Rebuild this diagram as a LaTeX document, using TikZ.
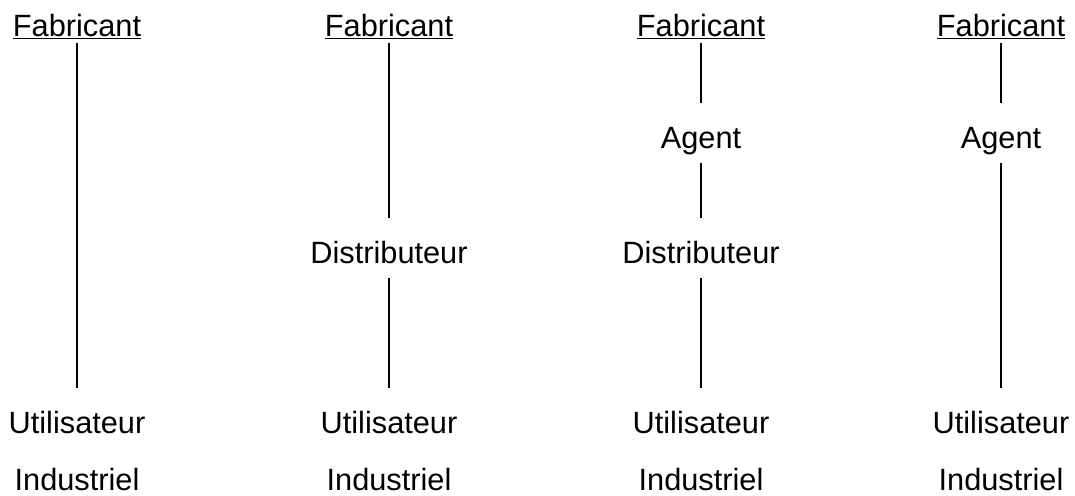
\documentclass[tikz,border=0pt]{standalone}
\usepackage{fontspec}
\setmainfont{Liberation Sans}
\begin{document}
\begin{tikzpicture}
            [x=0.02cm, y=-0.02cm,
            lbl/.style={anchor=base, inner sep=0pt, font=\fontsize{17.5}{20}\selectfont,
                text height=25.2pt, text depth=8.5pt},
            top/.style={lbl, text depth=4pt},
            link/.style={black, line width=1.1pt}]

            \useasboundingbox (0,0) rectangle (1075,495);

            % column 1
            \node[top] (f1) at (77,36) {\underline{Fabricant}};
            \node[lbl] (u1) at (77,433) {Utilisateur};
            \node[lbl] (i1) at (77,490) {Industriel};

            % column 2
            \node[top] (f2) at (389,36) {\underline{Fabricant}};
            \node[lbl] (d2) at (389,263) {Distributeur};
            \node[lbl] (u2) at (389,433) {Utilisateur};
            \node[lbl] (i2) at (389,490) {Industriel};

            % column 3
            \node[top] (f3) at (701,36) {\underline{Fabricant}};
            \node[lbl] (a3) at (701,148) {Agent};
            \node[lbl] (d3) at (701,263) {Distributeur};
            \node[lbl] (u3) at (701,433) {Utilisateur};
            \node[lbl] (i3) at (701,490) {Industriel};

            % column 4
            \node[top] (f4) at (1001,36) {\underline{Fabricant}};
            \node[lbl] (a4) at (1001,148) {Agent};
            \node[lbl] (u4) at (1001,433) {Utilisateur};
            \node[lbl] (i4) at (1001,490) {Industriel};

            \draw[link] (f1) -- (u1);
            \draw[link] (f2) -- (d2);
            \draw[link] (d2) -- (u2);
            \draw[link] (f3) -- (a3);
            \draw[link] (a3) -- (d3);
            \draw[link] (d3) -- (u3);
            \draw[link] (f4) -- (a4);
            \draw[link] (a4) -- (u4);

        \end{tikzpicture}
\end{document}
